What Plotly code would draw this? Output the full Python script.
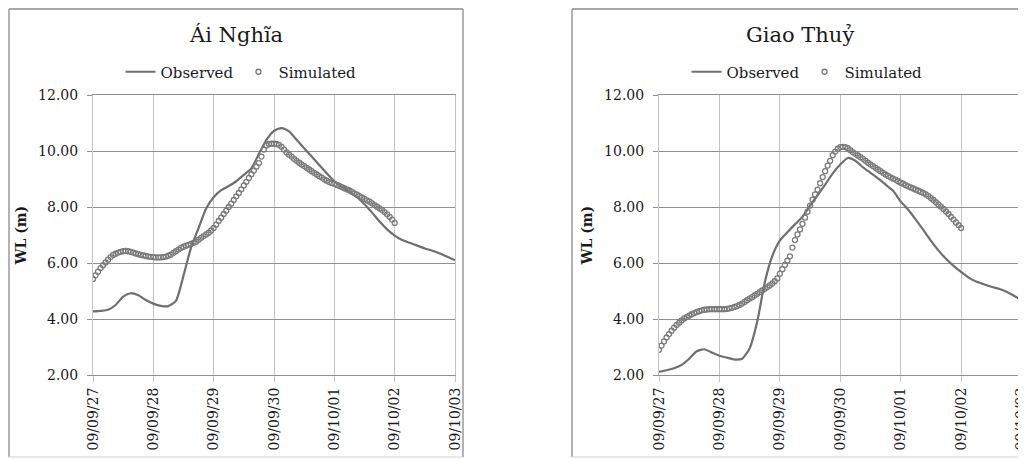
import plotly.graph_objects as go
import pandas as pd

# ---------------- data ----------------
start = "2009-09-27"
tick_labels = ["09/09/27", "09/09/28", "09/09/29", "09/09/30", "09/10/01", "09/10/02", "09/10/03"]

# Ái Nghĩa observed (every 3 hours from 2009-09-27 00:00)
ai_obs = [4.27, 4.29, 4.33, 4.50, 4.80, 4.92, 4.85, 4.68,
          4.55, 4.47, 4.46, 4.65, 5.55, 6.55, 7.25, 7.95,
          8.35, 8.60, 8.75, 8.92, 9.15, 9.38, 9.90, 10.40,
          10.72, 10.82, 10.70, 10.40, 10.10, 9.80, 9.50, 9.20,
          8.92, 8.72, 8.55, 8.35, 8.10, 7.80, 7.48, 7.20,
          6.98, 6.82, 6.72, 6.62, 6.52, 6.44, 6.34, 6.22,
          6.10]

# Ái Nghĩa simulated (hourly)
ai_sim = [5.43, 5.56, 5.69, 5.82, 5.92, 6.02, 6.12, 6.21, 6.29, 6.33, 6.37, 6.40,
          6.42, 6.43, 6.42, 6.40, 6.37, 6.34, 6.32, 6.29, 6.27, 6.25, 6.23, 6.22,
          6.21, 6.20, 6.20, 6.20, 6.21, 6.23, 6.26, 6.30, 6.36, 6.42, 6.48, 6.54,
          6.58, 6.62, 6.65, 6.68, 6.72, 6.76, 6.83, 6.90, 6.96, 7.02, 7.08, 7.16,
          7.25, 7.37, 7.50, 7.62, 7.75, 7.87, 8.00, 8.12, 8.25, 8.38, 8.50, 8.63,
          8.77, 8.90, 9.04, 9.17, 9.30, 9.44, 9.57, 9.80, 10.05, 10.20, 10.25, 10.26,
          10.26, 10.25, 10.22, 10.15, 10.05, 9.95, 9.87, 9.80, 9.72, 9.65, 9.58, 9.52,
          9.46, 9.40, 9.34, 9.28, 9.22, 9.16, 9.10, 9.05, 8.99, 8.94, 8.89, 8.85,
          8.83, 8.79, 8.75, 8.71, 8.67, 8.63, 8.59, 8.54, 8.49, 8.44, 8.39, 8.34,
          8.29, 8.24, 8.19, 8.13, 8.07, 8.01, 7.95, 7.89, 7.82, 7.74, 7.65, 7.55,
          7.43]

# Giao Thuỷ observed (every 3 hours)
gt_obs = [2.11, 2.17, 2.24, 2.36, 2.58, 2.85, 2.92, 2.80,
          2.69, 2.62, 2.55, 2.58, 2.95, 3.90, 5.30, 6.25,
          6.80, 7.10, 7.38, 7.65, 8.05, 8.42, 8.80, 9.20,
          9.52, 9.75, 9.65, 9.42, 9.22, 9.02, 8.80, 8.58,
          8.20, 7.90, 7.55, 7.18, 6.80, 6.45, 6.15, 5.90,
          5.68, 5.48, 5.34, 5.24, 5.15, 5.08, 4.97, 4.83,
          4.68]

# Giao Thuỷ simulated (hourly)
gt_sim = [2.90, 3.05, 3.20, 3.34, 3.46, 3.58, 3.69, 3.79, 3.87, 3.95, 4.02, 4.07,
          4.12, 4.17, 4.21, 4.25, 4.28, 4.31, 4.33, 4.34, 4.35, 4.35, 4.35, 4.35,
          4.35, 4.35, 4.35, 4.36, 4.38, 4.40, 4.43, 4.46, 4.50, 4.55, 4.61, 4.67,
          4.73, 4.78, 4.84, 4.90, 4.96, 5.02, 5.08, 5.14, 5.20, 5.27, 5.35, 5.45,
          5.62, 5.78, 5.93, 6.08, 6.24, 6.55, 6.82, 7.02, 7.20, 7.40, 7.62, 7.83,
          8.05, 8.26, 8.45, 8.62, 8.85, 9.07, 9.28, 9.48, 9.65, 9.85, 9.98, 10.08,
          10.14, 10.15, 10.14, 10.10, 10.03, 9.96, 9.90, 9.84, 9.78, 9.72, 9.65, 9.58,
          9.52, 9.46, 9.40, 9.34, 9.28, 9.22, 9.16, 9.11, 9.06, 9.01, 8.97, 8.92,
          8.87, 8.83, 8.78, 8.74, 8.70, 8.66, 8.62, 8.58, 8.54, 8.50, 8.45, 8.39,
          8.32, 8.25, 8.17, 8.09, 8.01, 7.93, 7.84, 7.75, 7.65, 7.55, 7.45, 7.35,
          7.25]

titles = ["Ái Nghĩa", "Giao Thuỷ"]
y_title = "WL (m)"

# ---------------- figure ----------------
OFF = 8                      # default page margin of the html body
W, H = 1026 - OFF, 459 - OFF
FONT = "DejaVu Serif"
LINE_C = "#6f6f6f"
MARK_C = "#7a7a7a"
HGRID = "#8f8f8f"
VGRID = "#c4c4c4"

dates_obs = pd.date_range(start, periods=len(ai_obs), freq="3h")
dates_sim = pd.date_range(start, periods=len(ai_sim), freq="h")
tickvals = pd.date_range(start, periods=len(tick_labels), freq="D")

fig = go.Figure()
panels = [(ai_obs, ai_sim, "x", "y", "legend"), (gt_obs, gt_sim, "x2", "y2", "legend2")]
for obs, sim, xa, ya, lg in panels:
    fig.add_trace(go.Scatter(x=dates_obs, y=obs, mode="lines", name="Observed",
                             line=dict(color=LINE_C, width=2.2, shape="spline", smoothing=0.6),
                             xaxis=xa, yaxis=ya, legend=lg))
    fig.add_trace(go.Scatter(x=dates_sim, y=sim, mode="markers", name="Simulated",
                             marker=dict(symbol="circle-open", size=5, color=MARK_C,
                                         line=dict(color=MARK_C, width=1.3)),
                             xaxis=xa, yaxis=ya, legend=lg))

def px_x(p):
    return (p - OFF) / W

def px_y(p):
    return 1 - (p - OFF) / H

xdoms = [[px_x(93), px_x(455)], [px_x(659), px_x(1021.5)]]
ydom = [px_y(375), px_y(95)]

tick_font = dict(family=FONT, size=14, color="#1a1a1a")
layout = dict(
    width=W, height=H,
    margin=dict(l=0, r=0, t=0, b=0, autoexpand=False),
    paper_bgcolor="white", plot_bgcolor="white",
    font=dict(family=FONT, color="#1a1a1a"),
    showlegend=True,
)
for i, (xd, sfx) in enumerate(zip(xdoms, ["", "2"])):
    layout["xaxis" + sfx] = dict(
        domain=xd, anchor="y" + sfx, type="date", automargin=False,
        range=[tickvals[0], tickvals[-1]],
        tickmode="array", tickvals=list(tickvals), ticktext=tick_labels,
        tickangle=-90, tickfont=tick_font, ticklabeloverflow="allow",
        showgrid=True, gridcolor=VGRID, gridwidth=1,
        ticks="outside", ticklen=6, tickcolor=VGRID,
        showline=True, linecolor=HGRID, linewidth=1, mirror=True,
        zeroline=False,
    )
    layout["yaxis" + sfx] = dict(
        domain=ydom, anchor="x" + sfx, automargin=False,
        range=[2, 12], tickmode="linear", tick0=2, dtick=2, tickformat=".2f",
        tickfont=tick_font,
        showgrid=True, gridcolor=HGRID, gridwidth=1,
        ticks="outside", ticklen=5, tickcolor=HGRID,
        showline=True, linecolor=VGRID, linewidth=1, mirror=True,
        zeroline=False,
        ticklabelstandoff=6,
        title=dict(text="<b>" + y_title + "</b>", font=dict(family=FONT, size=14, color="#1a1a1a"),
                   standoff=8),
    )

legend_common = dict(orientation="h", yanchor="middle", xanchor="center",
                     font=dict(family=FONT, size=15, color="#1a1a1a"),
                     bgcolor="rgba(0,0,0,0)", itemwidth=30, tracegroupgap=0)
layout["legend"] = dict(legend_common, x=px_x(241), y=px_y(72))
layout["legend2"] = dict(legend_common, x=px_x(807), y=px_y(72))

fig.update_layout(**layout)

# chart titles
for t, cx in zip(titles, [236, 800]):
    fig.add_annotation(text=t, x=px_x(cx), y=px_y(35), xref="paper", yref="paper",
                       xanchor="center", yanchor="middle", showarrow=False,
                       font=dict(family=FONT, size=21, color="#1a1a1a"))

# chart-area borders
BORDER = "#8a8a8a"
TOP, BOT = 9, 457
for x0, x1 in [(9, 463), (572, 1040)]:
    fig.add_shape(type="line", xref="paper", yref="paper", x0=px_x(x0), x1=px_x(x1),
                  y0=px_y(TOP), y1=px_y(TOP), line=dict(color=BORDER, width=1.3))
    fig.add_shape(type="line", xref="paper", yref="paper", x0=px_x(x0), x1=px_x(x0),
                  y0=px_y(TOP), y1=px_y(BOT), line=dict(color=BORDER, width=1.3))
    fig.add_shape(type="line", xref="paper", yref="paper", x0=px_x(x0), x1=px_x(x1),
                  y0=px_y(BOT), y1=px_y(BOT), line=dict(color="#d0d0d0", width=1))
fig.add_shape(type="line", xref="paper", yref="paper", x0=px_x(463), x1=px_x(463),
              y0=px_y(TOP), y1=px_y(BOT), line=dict(color=BORDER, width=1.3))

fig.write_html("out.html")
